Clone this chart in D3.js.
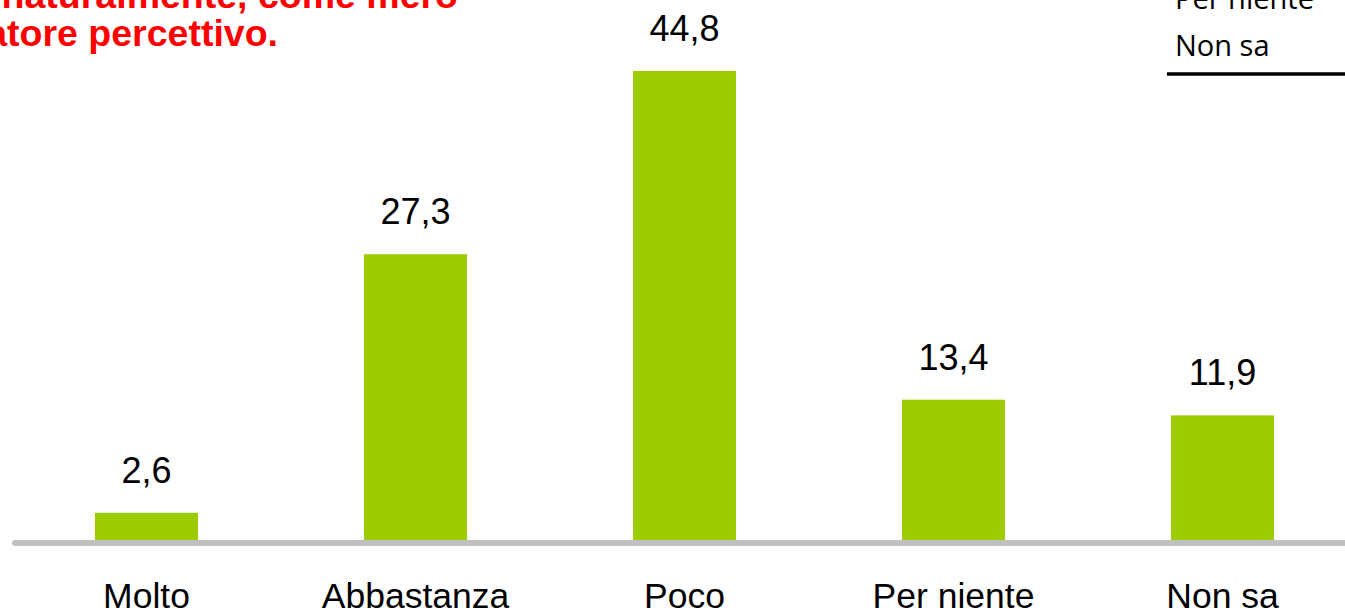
<!DOCTYPE html>
<html lang="it">
<head>
    <meta charset="UTF-8">
    <title>Grafico</title>
    <script src="https://d3js.org/d3.v7.min.js"></script>
    <style>
        html, body { margin: 0; padding: 0; background: #fff; overflow: hidden; }
    </style>
</head>
<body>
    <script>
        // DATA
        var categories = ["Molto", "Abbastanza", "Poco", "Per niente", "Non sa"];
        var values = [2.6, 27.3, 44.8, 13.4, 11.9];
        var titleLines = ["naturalmente, come mero", "indicatore percettivo."];
        var legendLabels = ["Per niente", "Non sa"];

        var width = 1345, height = 611;
        var baseY = 540;

        var svg = d3.select("body")
            .append("svg")
            .attr("width", width)
            .attr("height", height);

        var x = d3.scaleBand()
            .domain(categories)
            .range([12, 1357])
            .paddingInner(0.617)
            .paddingOuter(0.3085);

        var y = d3.scaleLinear()
            .domain([0, 44.8])
            .range([baseY, 71]);

        // Bars
        svg.append("g").selectAll("rect")
            .data(values)
            .enter().append("rect")
            .attr("x", function(d, i) { return x(categories[i]); })
            .attr("y", function(d) { return y(d); })
            .attr("width", x.bandwidth())
            .attr("height", function(d) { return baseY - y(d); })
            .attr("fill", "#9ccc00");

        // Value labels
        svg.append("g").selectAll("text")
            .data(values)
            .enter().append("text")
            .attr("x", function(d, i) { return x(categories[i]) + x.bandwidth() / 2; })
            .attr("y", function(d) { return y(d) - 30; })
            .attr("text-anchor", "middle")
            .attr("font-family", "'Liberation Sans', Arial, sans-serif")
            .attr("font-size", "36px")
            .attr("fill", "#000")
            .text(function(d) { return d3.format(".1f")(d).replace(".", ","); });

        // Baseline axis
        svg.append("line")
            .attr("x1", 15)
            .attr("x2", width + 5)
            .attr("y1", 543)
            .attr("y2", 543)
            .attr("stroke", "#c0c0c0")
            .attr("stroke-width", 6)
            .attr("stroke-linecap", "round");

        // Category labels
        var xAxis = d3.axisBottom(x).tickSize(0).tickPadding(0);
        var axisG = svg.append("g").call(xAxis);
        axisG.select(".domain").remove();
        axisG.selectAll("text")
            .attr("y", 608)
            .attr("dy", null)
            .attr("font-family", "'Liberation Sans', Arial, sans-serif")
            .attr("font-size", "35.5px")
            .attr("fill", "#000");

        // Title (cut off at the top left)
        svg.append("g").selectAll("text")
            .data(titleLines)
            .enter().append("text")
            .attr("x", function(d, i) { return i === 0 ? 458 : 278; })
            .attr("y", function(d, i) { return 8 + i * 38; })
            .attr("text-anchor", "end")
            .attr("font-family", "'Liberation Sans', Arial, sans-serif")
            .attr("font-weight", "bold")
            .attr("font-size", "37.5px")
            .attr("fill", "#ff0000")
            .text(function(d) { return d; });

        // Legend fragment (top right)
        svg.append("g").selectAll("text")
            .data(legendLabels)
            .enter().append("text")
            .attr("x", 1175)
            .attr("y", function(d, i) { return 9 + i * 47; })
            .attr("font-family", "'Open Sans', sans-serif")
            .attr("font-size", "29px")
            .attr("fill", "#000")
            .text(function(d) { return d; });

        svg.append("line")
            .attr("x1", 1167)
            .attr("x2", width)
            .attr("y1", 74)
            .attr("y2", 74)
            .attr("stroke", "#000")
            .attr("stroke-width", 3.5);
    </script>
</body>
</html>
